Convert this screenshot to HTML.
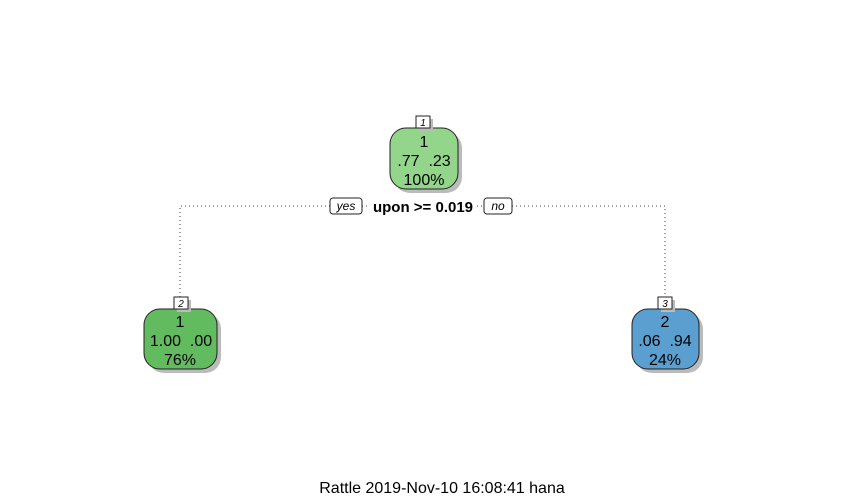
<!DOCTYPE html>
<html><head><meta charset="utf-8"><style>
html,body{margin:0;padding:0;background:#fff;}
svg{display:block;font-family:"Liberation Sans",Arial,sans-serif;}
</style></head><body>
<svg width="844" height="498" viewBox="0 0 844 498" xmlns="http://www.w3.org/2000/svg">
<g fill="none" stroke="#444" stroke-width="1" stroke-dasharray="1,3">
<path d="M180 297 V206 H330"/>
<path d="M362 206 H369"/>
<path d="M477 206 H484"/>
<path d="M512 206 H665 V297"/>
</g>
<!-- node 1 -->
<rect x="394" y="132" width="68" height="61" rx="16" fill="#bbb"/>
<rect x="390" y="128" width="68" height="61" rx="16" fill="#93d58a" stroke="#222"/>
<rect x="419" y="119" width="14" height="12" fill="#bbb"/>
<rect x="416" y="116" width="14" height="12" fill="#fff" stroke="#222"/>
<text x="423" y="126" font-size="10" font-style="italic" text-anchor="middle">1</text>
<text x="424" y="147" font-size="16" text-anchor="middle">1</text>
<text x="424" y="166" font-size="16" text-anchor="middle" xml:space="preserve">.77  .23</text>
<text x="424" y="185" font-size="16" text-anchor="middle">100%</text>
<!-- labels -->
<rect x="330" y="198" width="32" height="16" rx="3" fill="#fff" stroke="#222"/>
<text x="346" y="210" font-size="12" font-style="italic" text-anchor="middle">yes</text>
<text x="423" y="212" font-size="15" font-weight="bold" text-anchor="middle">upon &gt;= 0.019</text>
<rect x="484" y="198" width="28" height="16" rx="3" fill="#fff" stroke="#222"/>
<text x="498" y="210" font-size="12" font-style="italic" text-anchor="middle">no</text>
<!-- node 2 -->
<rect x="148" y="313" width="73" height="60" rx="16" fill="#bbb"/>
<rect x="144" y="309" width="73" height="60" rx="16" fill="#63bb60" stroke="#222"/>
<rect x="177" y="300" width="14" height="12" fill="#bbb"/>
<rect x="174" y="297" width="14" height="12" fill="#fff" stroke="#222"/>
<text x="181" y="307" font-size="10" font-style="italic" text-anchor="middle">2</text>
<text x="180" y="327" font-size="16" text-anchor="middle">1</text>
<text x="181" y="346" font-size="16" text-anchor="middle" xml:space="preserve">1.00  .00</text>
<text x="180" y="365" font-size="16" text-anchor="middle">76%</text>
<!-- node 3 -->
<rect x="636" y="313" width="67" height="60" rx="16" fill="#bbb"/>
<rect x="632" y="309" width="67" height="60" rx="16" fill="#5a9fcf" stroke="#222"/>
<rect x="661" y="300" width="14" height="12" fill="#bbb"/>
<rect x="658" y="297" width="14" height="12" fill="#fff" stroke="#222"/>
<text x="665" y="307" font-size="10" font-style="italic" text-anchor="middle">3</text>
<text x="665" y="327" font-size="16" text-anchor="middle">2</text>
<text x="665" y="346" font-size="16" text-anchor="middle" xml:space="preserve">.06  .94</text>
<text x="665" y="365" font-size="16" text-anchor="middle">24%</text>
<text x="442" y="493" font-size="16" text-anchor="middle">Rattle 2019-Nov-10 16:08:41 hana</text>
</svg>
</body></html>
